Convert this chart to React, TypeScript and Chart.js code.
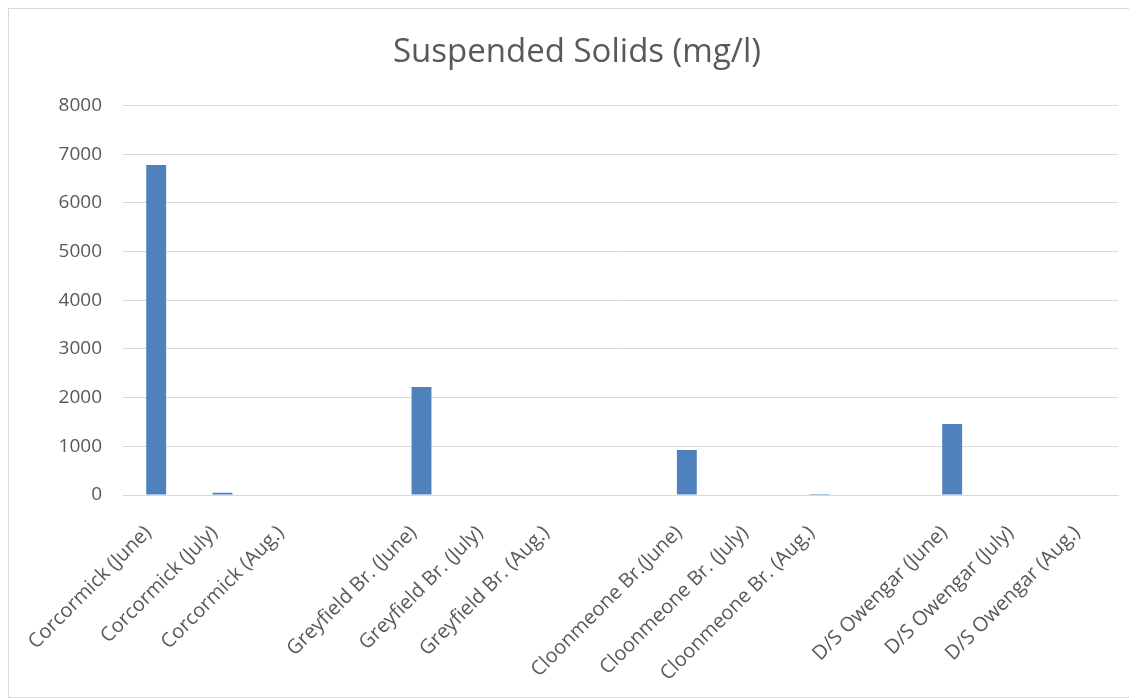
import React, { useEffect, useRef } from "react";
import { Chart, registerables } from "chart.js";

Chart.register(...registerables);

const categories = [
  "Corcormick (June)",
  "Corcormick (July)",
  "Corcormick (Aug.)",
  "",
  "Greyfield Br. (June)",
  "Greyfield Br. (July)",
  "Greyfield Br. (Aug.)",
  "",
  "Cloonmeone Br.(June)",
  "Cloonmeone Br. (July)",
  "Cloonmeone Br. (Aug.)",
  "",
  "D/S Owengar (June)",
  "D/S Owengar (July)",
  "D/S Owengar (Aug.)",
];

const suspendedSolids = [6780, 45, 0, null, 2220, 0, 8, null, 925, 0, 20, null, 1460, 8, 10];

const yTicks = [0, 1000, 2000, 3000, 4000, 5000, 6000, 7000, 8000];

const titleText = "Suspended Solids (mg/l)";

export default function App() {
  const ref = useRef<HTMLCanvasElement | null>(null);

  useEffect(() => {
    if (!ref.current) return;
    const chart = new Chart(ref.current, {
      type: "bar",
      data: {
        labels: categories,
        datasets: [
          {
            label: "Suspended Solids",
            data: suspendedSolids as any,
            backgroundColor: "#4F81BD",
            borderWidth: 0,
            barPercentage: 0.6,
            categoryPercentage: 0.5,
          },
        ],
      },
      options: {
        animation: false,
        responsive: false,
        maintainAspectRatio: false,
        layout: { padding: { left: 27, right: 18, top: 0, bottom: 0 } },
        plugins: {
          legend: { display: false },
          tooltip: { enabled: false },
          title: {
            display: true,
            text: titleText,
            color: "#595959",
            font: { family: "'Open Sans'", size: 33, weight: "normal" },
            padding: { top: 24, bottom: 33 },
          },
        },
        scales: {
          x: {
            grid: { display: false, drawTicks: false },
            border: { display: true, color: "#d9d9d9", width: 1 },
            ticks: {
              color: "#595959",
              font: { family: "'Open Sans'", size: 20 },
              maxRotation: 45,
              minRotation: 45,
              autoSkip: false,
              padding: 26,
              labelOffset: -8,
            },
            afterFit: (scale: any) => {
              scale.height = 202;
            },
          },
          y: {
            min: 0,
            max: 8000,
            afterBuildTicks: (scale: any) => {
              scale.ticks = yTicks.map((v) => ({ value: v }));
            },
            grid: { color: "#d9d9d9", drawTicks: false, lineWidth: 1 },
            border: { display: false },
            ticks: {
              color: "#595959",
              font: { family: "'Open Sans'", size: 19 },
              padding: 21,
              callback: (v: any) => String(v),
            },
            afterFit: (scale: any) => {
              scale.width = 87;
            },
          },
        },
      },
    });
    return () => chart.destroy();
  }, []);

  return (
    <div
      style={{
        width: 1127,
        height: 688,
        border: "1px solid #d9d9d9",
        background: "#fff",
      }}
    >
      <canvas ref={ref} width={1127} height={688} style={{ display: "block" }} />
    </div>
  );
}
